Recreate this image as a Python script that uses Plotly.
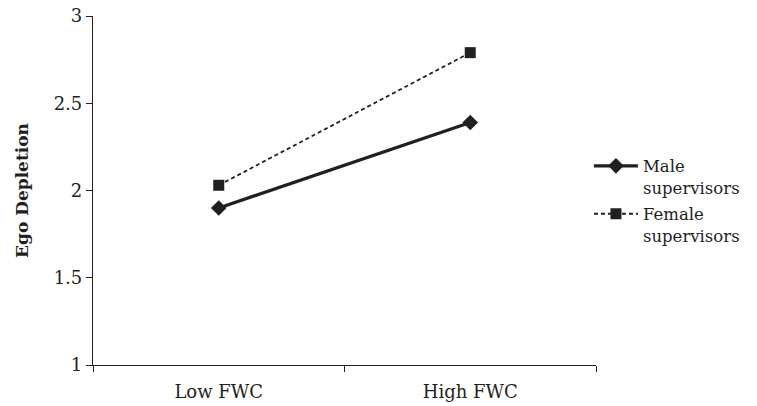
import plotly.graph_objects as go

categories = ["Low FWC", "High FWC"]
male_values = [1.90, 2.39]
female_values = [2.03, 2.79]
y_ticks = [1, 1.5, 2, 2.5, 3]
y_tick_labels = ["1", "1.5", "2", "2.5", "3"]

ink = "#231f20"
serif = "DejaVu Serif"

fig = go.Figure()
fig.add_trace(go.Scatter(
    x=categories, y=male_values, mode="lines+markers",
    name="Male<br>supervisors", legendgroup="m",
    line=dict(color=ink, width=3.2),
    marker=dict(symbol="diamond", size=12, color=ink),
))
fig.add_trace(go.Scatter(
    x=categories, y=female_values, mode="lines+markers",
    name="Female<br>supervisors", legendgroup="f",
    line=dict(color=ink, width=1.8, dash="4px,3px"),
    marker=dict(symbol="square", size=11, color=ink),
))

fig.update_layout(
    width=757, height=406,
    margin=dict(l=93, r=161, t=16, b=41),
    plot_bgcolor="white", paper_bgcolor="white",
    font=dict(family=serif, size=17, color=ink),
    legend=dict(x=0.986, y=0.62, xanchor="left", yanchor="top",
                valign="top", tracegroupgap=2, itemwidth=44,
                font=dict(family=serif, size=16.5, color=ink)),
    xaxis=dict(
        type="category", range=[-0.5, 1.5], tickson="boundaries",
        showline=True, linecolor=ink, linewidth=1.2,
        ticks="outside", ticklen=6, tickcolor=ink,
        showgrid=False, zeroline=False, automargin=False,
        ticklabelstandoff=10, ticklabeloverflow="allow",
        tickfont=dict(family=serif, size=18, color=ink),
    ),
    yaxis=dict(
        range=[1, 3], tickvals=y_ticks, ticktext=y_tick_labels,
        showline=True, linecolor=ink, linewidth=1.2,
        ticks="outside", ticklen=6, tickcolor=ink,
        showgrid=False, zeroline=False, automargin=False,
        ticklabeloverflow="allow",
        tickfont=dict(family=serif, size=18, color=ink),
        title=dict(text="<b>Ego Depletion</b>",
                   font=dict(family=serif, size=17, color=ink),
                   standoff=20),
    ),
)

fig.write_html(
    "out.html",
    config={"displayModeBar": False},
    post_script="document.body.style.margin='0px';document.body.style.overflow='hidden';",
)
